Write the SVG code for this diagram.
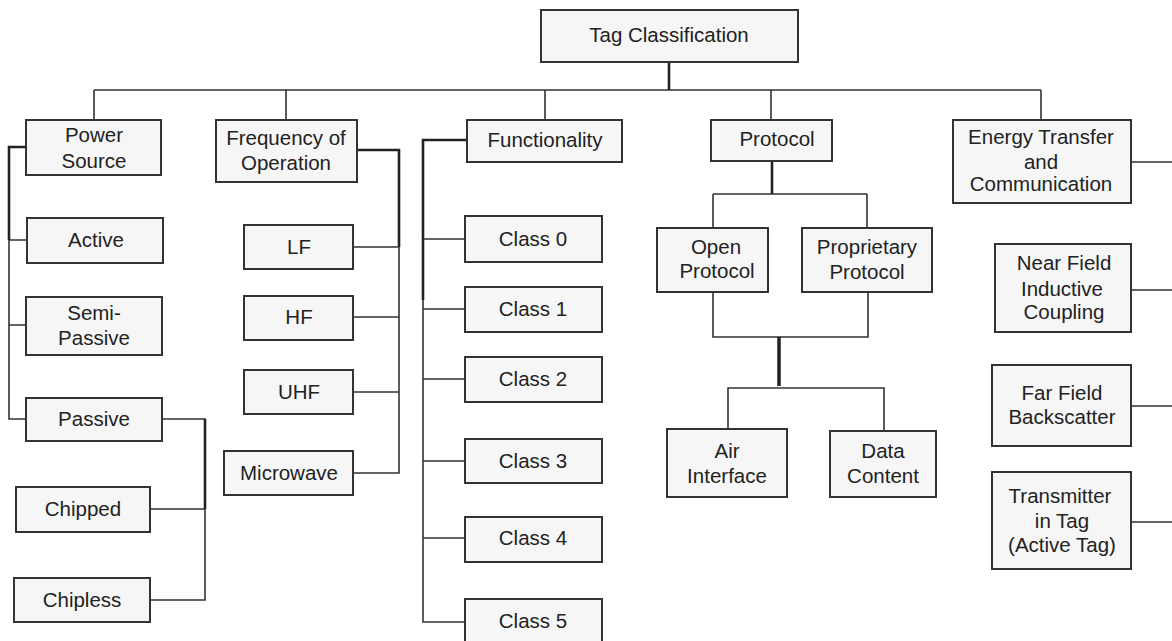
<svg xmlns="http://www.w3.org/2000/svg" width="1172" height="641" viewBox="0 0 1172 641">
<style>
.box{fill:#f6f6f6;stroke:#333;stroke-width:2}
.t{font-family:"Liberation Sans",Arial,sans-serif;font-size:20.5px;fill:#222;text-anchor:middle}
.c{fill:none;stroke:#333;stroke-width:1.6}
.k{fill:none;stroke:#222;stroke-width:2.6}
</style>
<rect width="1172" height="641" fill="#fff"/>
<g id="connectors">
<path class="k" d="M669,62V90"/>
<path class="c" d="M94,90H1041M94,90V120M286,90V120M545,90V120M771,90V120M1041,90V120"/>
<path class="k" d="M26,147H9V240"/>
<path class="c" d="M9,240V419H26M9,240H27M9,325H26"/>
<path class="c" d="M162,419H205V600H150M205,509H150"/>
<path class="k" d="M205,419V509"/>
<path class="k" d="M357,150H399V247"/>
<path class="c" d="M399,247V473H353M399,247H353M399,317H353M399,392H353"/>
<path class="k" d="M467,140H423V300"/>
<path class="c" d="M423,300V622H465M423,239H465M423,309H465M423,379H465M423,461H465M423,538H465"/>
<path class="k" d="M772,161V194"/>
<path class="c" d="M713,194H867M713,194V228M867,194V228"/>
<path class="c" d="M713,292V337H868V292"/>
<path class="k" style="stroke-width:3.5" d="M779,337V386"/>
<path class="c" d="M728,429V388H884V431"/>
<path class="c" d="M1131,162H1172M1131,290H1172M1131,406H1172M1131,522H1172"/>
</g>
<g id="tag-classification"><rect class="box" x="541" y="10" width="257" height="52"/><text class="t" x="669" y="42">Tag Classification</text></g>
<g id="power-source"><rect class="box" x="26" y="120" width="135" height="55"/><text class="t" x="94" y="142">Power</text><text class="t" x="94" y="168">Source</text></g>
<g id="frequency"><rect class="box" x="216" y="120" width="141" height="62"/><text class="t" x="286" y="145">Frequency of</text><text class="t" x="286" y="170">Operation</text></g>
<g id="functionality"><rect class="box" x="467" y="120" width="155" height="42"/><text class="t" x="545" y="147">Functionality</text></g>
<g id="protocol"><rect class="box" x="711" y="120" width="121" height="41"/><text class="t" x="777" y="146">Protocol</text></g>
<g id="energy"><rect class="box" x="953" y="120" width="178" height="83"/><text class="t" x="1041" y="144">Energy Transfer</text><text class="t" x="1041" y="169">and</text><text class="t" x="1041" y="191">Communication</text></g>
<g id="active"><rect class="box" x="27" y="218" width="136" height="45"/><text class="t" x="96" y="247">Active</text></g>
<g id="semi-passive"><rect class="box" x="26" y="297" width="136" height="58"/><text class="t" x="94" y="320">Semi-</text><text class="t" x="94" y="345">Passive</text></g>
<g id="passive"><rect class="box" x="26" y="398" width="136" height="43"/><text class="t" x="94" y="426">Passive</text></g>
<g id="chipped"><rect class="box" x="16" y="487" width="134" height="45"/><text class="t" x="83" y="516">Chipped</text></g>
<g id="chipless"><rect class="box" x="14" y="578" width="136" height="44"/><text class="t" x="82" y="607">Chipless</text></g>
<g id="lf"><rect class="box" x="244" y="225" width="109" height="44"/><text class="t" x="299" y="254">LF</text></g>
<g id="hf"><rect class="box" x="244" y="296" width="109" height="44"/><text class="t" x="299" y="324">HF</text></g>
<g id="uhf"><rect class="box" x="244" y="370" width="109" height="44"/><text class="t" x="299" y="399">UHF</text></g>
<g id="microwave"><rect class="box" x="224" y="451" width="129" height="44"/><text class="t" x="289" y="480">Microwave</text></g>
<g id="class0"><rect class="box" x="465" y="216" width="137" height="46"/><text class="t" x="533" y="246">Class 0</text></g>
<g id="class1"><rect class="box" x="465" y="287" width="137" height="45"/><text class="t" x="533" y="316">Class 1</text></g>
<g id="class2"><rect class="box" x="465" y="357" width="137" height="45"/><text class="t" x="533" y="386">Class 2</text></g>
<g id="class3"><rect class="box" x="465" y="439" width="137" height="44"/><text class="t" x="533" y="468">Class 3</text></g>
<g id="class4"><rect class="box" x="465" y="517" width="137" height="45"/><text class="t" x="533" y="545">Class 4</text></g>
<g id="class5"><rect class="box" x="465" y="599" width="137" height="46"/><text class="t" x="533" y="628">Class 5</text></g>
<g id="open-protocol"><rect class="box" x="657" y="228" width="111" height="64"/><text class="t" x="716" y="254">Open</text><text class="t" x="717" y="278">Protocol</text></g>
<g id="proprietary-protocol"><rect class="box" x="802" y="228" width="130" height="64"/><text class="t" x="867" y="254">Proprietary</text><text class="t" x="867" y="279">Protocol</text></g>
<g id="air-interface"><rect class="box" x="667" y="429" width="120" height="68"/><text class="t" x="727" y="458">Air</text><text class="t" x="727" y="483">Interface</text></g>
<g id="data-content"><rect class="box" x="830" y="431" width="106" height="66"/><text class="t" x="883" y="458">Data</text><text class="t" x="883" y="483">Content</text></g>
<g id="near-field"><rect class="box" x="995" y="244" width="136" height="88"/><text class="t" x="1064" y="270">Near Field</text><text class="t" x="1062" y="296">Inductive</text><text class="t" x="1064" y="319">Coupling</text></g>
<g id="far-field"><rect class="box" x="992" y="365" width="139" height="81"/><text class="t" x="1062" y="400">Far Field</text><text class="t" x="1062" y="424">Backscatter</text></g>
<g id="transmitter"><rect class="box" x="992" y="472" width="139" height="97"/><text class="t" x="1060" y="503">Transmitter</text><text class="t" x="1062" y="528">in Tag</text><text class="t" x="1062" y="552">(Active Tag)</text></g>
</svg>
